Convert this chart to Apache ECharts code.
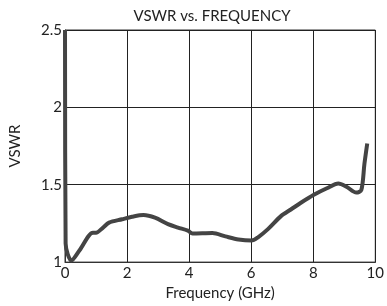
<!DOCTYPE html>
<html>
<head>
<meta charset="utf-8">
<script src="https://cdn.jsdelivr.net/npm/echarts@6/dist/echarts.min.js"></script>
<style>
html,body{margin:0;padding:0;background:#fff;}
#main{width:387px;height:306px;}
</style>
</head>
<body>
<div id="main"></div>
<script>
//数据
var freq = [0, 0.02, 0.21, 0.47, 0.9, 1.0, 1.21, 1.42, 1.84, 2.16, 2.53, 2.9, 3.32, 3.64, 3.96, 4.11, 4.75, 5.17, 5.59, 6.01, 6.22, 6.54, 6.96, 7.28, 7.59, 8.02, 8.44, 8.81, 9.07, 9.39, 9.55, 9.65, 9.74];
var vswr = [2.5, 1.12, 1.01, 1.076, 1.19, 1.19, 1.22, 1.255, 1.277, 1.293, 1.304, 1.287, 1.245, 1.223, 1.203, 1.185, 1.188, 1.166, 1.146, 1.139, 1.16, 1.213, 1.297, 1.34, 1.382, 1.435, 1.477, 1.508, 1.487, 1.449, 1.466, 1.635, 1.766];

var points = [];
for (var i = 0; i < freq.length; i++) {
    points.push([freq[i], vswr[i]]);
}

var myChart = echarts.init(document.getElementById("main"));

var font = "Lato, 'Open Sans', sans-serif";

option = {
    animation : false,

    title : {
        text : "VSWR vs. FREQUENCY",
        left : 207,
        top : 4,
        textAlign : "center",
        textStyle : {color : "#222", fontSize : 15, fontWeight : "normal", fontFamily : font}
    },

    grid : {
        left : 60, right : 11, top : 30, bottom : 39,
        show : true,
        borderColor : "#333",
        borderWidth : 1
    },

    xAxis : {
        type : "value",
        min : 0, max : 10, interval : 2,
        name : "Frequency (GHz)",
        nameLocation : "middle",
        nameGap : 22,
        nameTextStyle : {color : "#222", fontSize : 15, fontFamily : font},
        axisLine : {lineStyle : {color : "#333", width : 1}},
        axisTick : {show : false},
        axisLabel : {color : "#222", fontSize : 15, fontFamily : font, margin : 4},
        splitLine : {lineStyle : {color : "#222", width : 1}}
    },

    yAxis : {
        type : "value",
        min : 1, max : 2.5, interval : 0.5,
        name : "VSWR",
        nameLocation : "middle",
        nameGap : 42,
        nameTextStyle : {color : "#222", fontSize : 15, fontFamily : font},
        axisLine : {show : true, lineStyle : {color : "#333", width : 1}},
        axisTick : {show : false},
        axisLabel : {color : "#222", fontSize : 15, fontFamily : font, margin : 3},
        splitLine : {lineStyle : {color : "#222", width : 1}}
    },

    series : [
        {
            type : "line",
            data : points,
            smooth : 0.3,
            symbol : "none",
            clip : true,
            lineStyle : {color : "#444", width : 4}
        }
    ]
};

myChart.setOption(option);
</script>
</body>
</html>
